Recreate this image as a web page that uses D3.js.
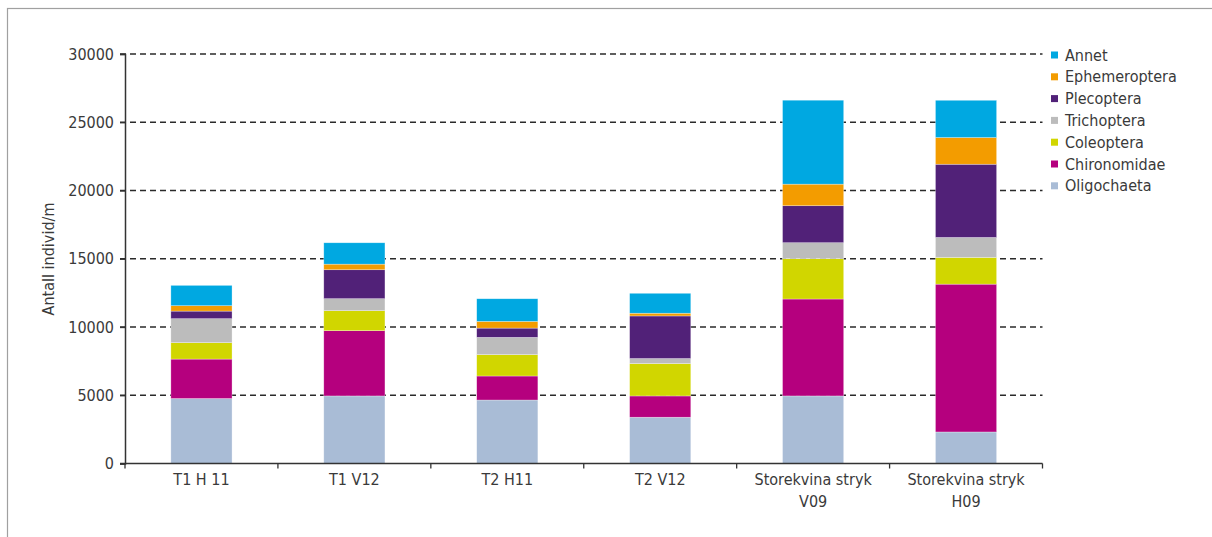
<!DOCTYPE html>
<html><head><meta charset="utf-8">
<script src="https://cdn.jsdelivr.net/npm/d3@7"></script>
<style>
body{margin:0;background:#fff;}
text{font-family:"Liberation Sans Narrow","DejaVu Sans Condensed","Roboto",sans-serif;fill:#3a3a3a;}
</style></head>
<body><svg id="c" width="1212" height="537"></svg>
<script>
const categories = [["T1 H 11"],["T1 V12"],["T2 H11"],["T2 V12"],["Storekvina stryk","V09"],["Storekvina stryk","H09"]];
const seriesNames = ["Oligochaeta","Chironomidae","Coleoptera","Trichoptera","Plecoptera","Ephemeroptera","Annet"];
const oligochaeta   = [4760, 4950, 4650, 3390, 4950, 2310];
const chironomidae  = [2890, 4780, 1760, 1560, 7100, 10830];
const coleoptera    = [1200, 1465, 1565, 2370, 2955, 1955];
const trichoptera   = [1760,  880, 1265,  370, 1170, 1465];
const plecoptera    = [ 555, 2120,  680, 3120, 2710, 5365];
const ephemeroptera = [ 395,  410,  490,  200, 1580, 1955];
const annet         = [1490, 1565, 1660, 1460, 6150, 2730];
const yTicks = [0,5000,10000,15000,20000,25000,30000];
const colors = ["#a9bcd6","#b5007e","#d1d600","#bcbcbc","#512178","#f39c00","#00a8e1"];

const seriesVals = [oligochaeta,chironomidae,coleoptera,trichoptera,plecoptera,ephemeroptera,annet];
const rows = categories.map((c,i)=>{const r={cat:i};seriesNames.forEach((s,j)=>r[s]=seriesVals[j][i]);return r;});
const stack = d3.stack().keys(seriesNames)(rows);

const svg = d3.select("#c");
// frame
svg.append("rect").attr("x",7.5).attr("y",8.5).attr("width",1220).attr("height",560)
  .attr("fill","none").attr("stroke","#a0a0a0").attr("stroke-width",1.2);

const x = d3.scaleBand().domain(d3.range(categories.length)).range([125,1042.5]).paddingInner(0.6).paddingOuter(0.3);
const xb = d3.scaleBand().domain(d3.range(categories.length)).range([125,1042.5]);
const y = d3.scaleLinear().domain([0,30000]).range([463.5,54]);

// gridlines
svg.append("g").selectAll("line").data(yTicks.filter(t=>t>0)).join("line")
  .attr("x1",120).attr("x2",1042.5).attr("y1",d=>y(d)).attr("y2",d=>y(d))
  .attr("stroke","#2a2a2a").attr("stroke-width",1.3).attr("stroke-dasharray","6,4");

// bars
svg.append("g").selectAll("g").data(stack).join("g").attr("fill",(d,i)=>colors[i])
  .selectAll("rect").data(d=>d).join("rect")
  .attr("x",d=>x(d.data.cat)).attr("width",x.bandwidth())
  .attr("y",d=>y(d[1])).attr("height",d=>y(d[0])-y(d[1]))
  .attr("stroke","rgba(255,255,255,0.5)").attr("stroke-width",0.6);

// y axis
const ya = svg.append("g").attr("transform","translate(125,0)")
  .call(d3.axisLeft(y).tickValues(yTicks).tickSize(5).tickPadding(6).tickFormat(d3.format("d")));
ya.select(".domain").attr("stroke","#333").attr("stroke-width",1.5);
ya.selectAll(".tick line").attr("stroke","#333").attr("stroke-width",1.3);
ya.selectAll("text").attr("font-size",16).attr("fill","#3a3a3a").style("font-family",null);

// x axis
const xa = svg.append("g").attr("transform","translate(0,463.5)");
xa.append("line").attr("x1",120).attr("x2",1042.5).attr("stroke","#333").attr("stroke-width",1.5);
xa.selectAll(".tk").data(d3.range(categories.length+1)).join("line").attr("class","tk")
  .attr("x1",d=>d<categories.length?xb(d):xb.range()[1]).attr("x2",d=>d<categories.length?xb(d):xb.range()[1])
  .attr("y1",0).attr("y2",5).attr("stroke","#333").attr("stroke-width",1.3);
const lbl = xa.selectAll(".lb").data(categories).join("text").attr("class","lb")
  .attr("text-anchor","middle").attr("font-size",16)
  .attr("transform",(d,i)=>`translate(${xb(i)+xb.bandwidth()/2},21.5)`);
lbl.selectAll("tspan").data(d=>d).join("tspan").attr("x",0).attr("dy",(d,i)=>i?22:0).text(d=>d);

// y title
svg.append("text").attr("transform","translate(54,259) rotate(-90)").attr("text-anchor","middle")
  .attr("font-size",16).text("Antall individ/m");

// legend
const legOrder = seriesNames.map((s,i)=>i).reverse();
const lg = svg.append("g").selectAll("g").data(legOrder).join("g")
  .attr("transform",(d,k)=>`translate(1051,${55+k*21.8})`);
lg.append("rect").attr("x",0).attr("y",-3.5).attr("width",7).attr("height",7).attr("fill",d=>colors[d]);
lg.append("text").attr("x",14).attr("y",0).attr("dy","0.35em").attr("font-size",16).text(d=>seriesNames[d]);
</script></body></html>
